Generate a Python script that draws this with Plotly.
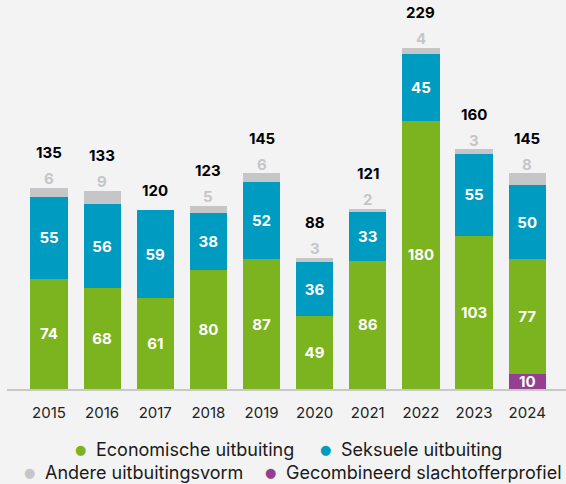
import plotly.graph_objects as go

years = ["2015", "2016", "2017", "2018", "2019", "2020", "2021", "2022", "2023", "2024"]
gecombineerd = [0, 0, 0, 0, 0, 0, 0, 0, 0, 10]
economisch = [74, 68, 61, 80, 87, 49, 86, 180, 103, 77]
seksueel = [55, 56, 59, 38, 52, 36, 33, 45, 55, 50]
andere = [6, 9, 0, 5, 6, 3, 2, 4, 3, 8]
totals = [135, 133, 120, 123, 145, 88, 121, 229, 160, 145]

C_GREEN = "#7bb41f"
C_BLUE = "#009bc1"
C_GREY = "#c6c6c8"
C_PURPLE = "#943f90"
BG = "#f3f3f3"
FONT = "Inter"

W, H = 566, 484
L, R, T, B = 7, 0, 10, 95
plot_w = W - L - R

def lbl(vals):
    return [f"<b>{v}</b>" if v else "" for v in vals]

fig = go.Figure()
for name, vals, col in [
    ("Gecombineerd slachtofferprofiel", gecombineerd, C_PURPLE),
    ("Economische uitbuiting", economisch, C_GREEN),
    ("Seksuele uitbuiting", seksueel, C_BLUE),
]:
    fig.add_trace(go.Bar(
        x=years, y=vals, name=name, marker=dict(color=col, line=dict(width=0)),
        text=lbl(vals), textposition="inside", insidetextanchor="middle",
        textangle=0, textfont=dict(color="white", size=15, family=FONT),
        width=0.7, hoverinfo="skip", showlegend=False,
    ))
fig.add_trace(go.Bar(
    x=years, y=andere, name="Andere uitbuitingsvorm",
    marker=dict(color=C_GREY, line=dict(width=0)), width=0.7,
    hoverinfo="skip", showlegend=False,
))

annotations = []
for i, yr in enumerate(years):
    top = gecombineerd[i] + economisch[i] + seksueel[i] + andere[i]
    if andere[i]:
        annotations.append(dict(x=i, y=top, xref="x", yref="y", text=f"<b>{andere[i]}</b>",
                                showarrow=False, yanchor="middle", yshift=9,
                                font=dict(color=C_GREY, size=15, family=FONT)))
        shift = 35
    else:
        shift = 20
    annotations.append(dict(x=i, y=top, xref="x", yref="y", text=f"<b>{totals[i]}</b>",
                            showarrow=False, yanchor="middle", yshift=shift,
                            font=dict(color="#000000", size=15, family=FONT)))

def px(x):
    return (x - L) / plot_w

def py(y):
    return (H - B - y) / (H - T - B)

# legend: (label, colour, dot centre x, row centre y)
legend_items = [
    ("Economische uitbuiting", C_GREEN, 80, 449),
    ("Seksuele uitbuiting", C_BLUE, 325, 449),
    ("Andere uitbuitingsvorm", C_GREY, 29, 472),
    ("Gecombineerd slachtofferprofiel", C_PURPLE, 270, 472),
]
for text, col, x, y in legend_items:
    annotations.append(dict(
        x=px(x), y=py(y), xref="paper", yref="paper", xanchor="center", yanchor="middle",
        showarrow=False, text="●", font=dict(color=col, size=13, family="DejaVu Sans"),
    ))
    annotations.append(dict(
        x=px(x + 14), y=py(y), xref="paper", yref="paper", xanchor="left", yanchor="middle",
        showarrow=False, text=text,
        font=dict(color="#1a1a1a", size=18, family=FONT),
    ))

fig.update_layout(
    width=W, height=H, barmode="stack", bargap=0.3,
    paper_bgcolor=BG, plot_bgcolor=BG,
    margin=dict(l=L, r=R, t=T, b=B),
    showlegend=False,
    font=dict(family=FONT),
    annotations=annotations,
    uniformtext=dict(mode="show", minsize=15),
    xaxis=dict(
        type="category", range=[-0.79, 9.73], showgrid=False, zeroline=False,
        showline=True, linecolor="#c8c8c8", linewidth=1.5,
        ticks="outside", ticklen=9, tickcolor="rgba(0,0,0,0)",
        tickfont=dict(size=15, color="#222222", family=FONT),
    ),
    yaxis=dict(range=[0, 254.5], visible=False, showgrid=False, zeroline=False),
)

fig.write_html(
    "out.html",
    config={"displayModeBar": False},
    post_script="document.body.style.margin='0px';document.body.style.background='%s';" % BG,
)
